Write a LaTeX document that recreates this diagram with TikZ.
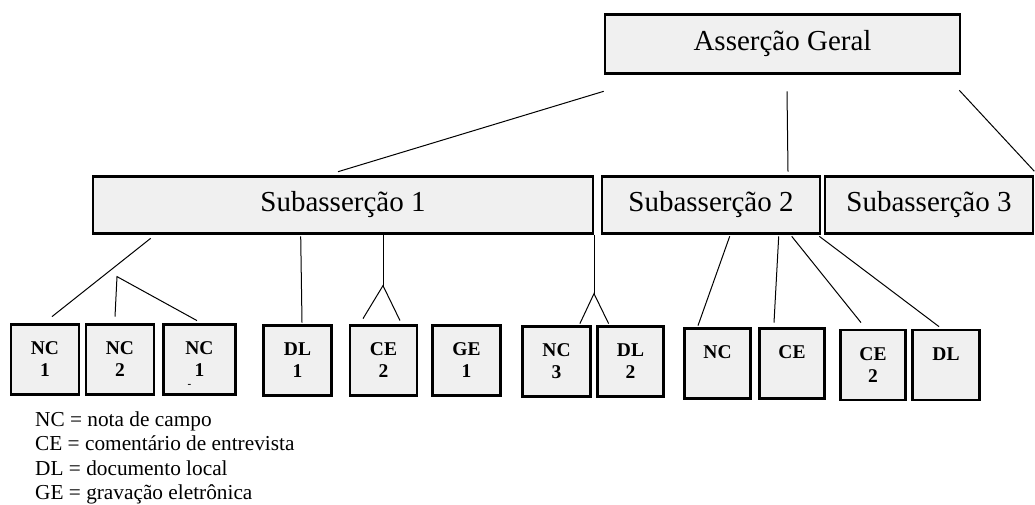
\documentclass[tikz,border=0pt]{standalone}
\usepackage{fontspec}
\setmainfont{Liberation Serif}
\usetikzlibrary{calc}
\definecolor{boxgray}{HTML}{F0F0F0}

\begin{document}
\begin{tikzpicture}[x=1pt,y=-1pt,
        every node/.style = {shape=rectangle, draw, fill=boxgray},
        assertion/.style = {line width=2.6pt, minimum height=59pt,
            font=\fontsize{29}{34}\selectfont},
        evidence/.style = {line width=2.8pt, minimum width=68pt,
            minimum height=70pt, align=center,
            font=\fontsize{19.5}{22}\selectfont\bfseries},
        link/.style = {line width=1pt}]
    \useasboundingbox (0,0) rectangle (1035,504);

    \node[assertion, minimum width=355pt] (geral) at (782.5,44) {Asserção Geral};
    \node[assertion, minimum width=500pt, minimum height=57pt] (sub1) at (343,205) {Subasserção 1};
    \node[assertion, minimum width=218pt, minimum height=57pt] (sub2) at (711,205) {Subasserção 2};
    \node[assertion, minimum width=208pt, minimum height=57pt] (sub3) at (929,205) {Subasserção 3};

    \node[evidence] (nc1) at (45,359.5) {NC\\1};
    \node[evidence] (nc2) at (120,359.5) {NC\\2};
    \node[evidence, minimum width=72pt] (nc1b) at (199.5,359.5)
        {NC\\1\llap{\smash{\raisebox{-11pt}{\fontsize{11}{11}\selectfont -}}\hspace{13pt}}};
    \node[evidence] (dl1) at (297.5,360.5) {DL\\1};
    \node[evidence, minimum width=67pt] (ce2) at (383.5,360.5) {CE\\2};
    \node[evidence] (ge1) at (466.5,360.5) {GE\\1};
    \node[evidence] (nc3) at (556.5,361.5) {NC\\3};
    \node[evidence, minimum width=66pt] (dl2) at (630.5,361.5) {DL\\2};
    \node[evidence, minimum width=66pt] (nc) at (717.5,363.5) {NC\\\phantom{1}};
    \node[evidence, minimum width=65pt] (ce) at (792,363.5) {CE\\\phantom{1}};
    \node[evidence, minimum width=65pt] (ce2b) at (873,365) {CE\\2};
    \node[evidence, minimum width=67pt] (dl) at (946,365) {DL\\\phantom{1}};

    \node[draw=none, fill=none, anchor=base west, align=left, inner sep=0pt,
        font=\fontsize{21.3}{24.5}\selectfont] (legenda) at (35,499.5)
        {NC = nota de campo\\CE = comentário de entrevista\\DL = documento local\\GE = gravação eletrônica};

    \draw[link] ($(geral.south west)+(0,16.5)$) -- ($(sub1.north)+(-5,-3.5)$);
    \draw[link] ($(geral.south)+(4.5,16.5)$) -- ($(sub2.north)+(77,-3.5)$);
    \draw[link] ($(geral.south east)+(-2,15.5)$) -- ($(sub3.north east)+(0,-4)$);

    \draw[link] ($(sub1.south west)+(59,3.5)$) -- ($(nc1.north)+(7,-6.5)$);
    \coordinate (forka) at ($(nc2.north)+(-3,-46.5)$);
    \draw[link] ($(nc2.north)+(-5,-6.5)$) -- (forka) -- ($(nc1b.north)+(-2.5,-2.5)$);
    \draw[link] ($(sub1.south west)+(209,1.5)$) -- ($(dl1.north)+(4.5,-1.5)$);
    \coordinate (forkb) at ($(ce2.north)+(-0.5,-38.5)$);
    \draw[link] (forkb |- sub1.south) -- (forkb);
    \draw[link] ($(ce2.north)+(-20.5,-5.5)$) -- (forkb) -- ($(ce2.north)+(16.5,-3.5)$);
    \coordinate (forkc) at ($($(nc3.north east)!0.5!(dl2.north west)$)+(0,-31.5)$);
    \draw[link] (forkc |- sub1.south) -- (forkc);
    \draw[link] ($(nc3.north east)+(-12,-1.5)$) -- (forkc) -- ($(dl2.north west)+(12.5,-1.5)$);

    \draw[link] ($(sub2.south west)+(129,1.5)$) -- ($(nc.north)+(-19.5,-1.5)$);
    \draw[link] ($(sub2.south west)+(178,1.5)$) -- ($(ce.north)+(-18,-4.5)$);
    \draw[link] ($(sub2.south west)+(191,1.5)$) -- ($(ce2b.north)+(-12,-6)$);
    \draw[link] ($(sub2.south east)+(-2,1.5)$) -- ($(dl.north)+(-7,-2)$);
\end{tikzpicture}
\end{document}
